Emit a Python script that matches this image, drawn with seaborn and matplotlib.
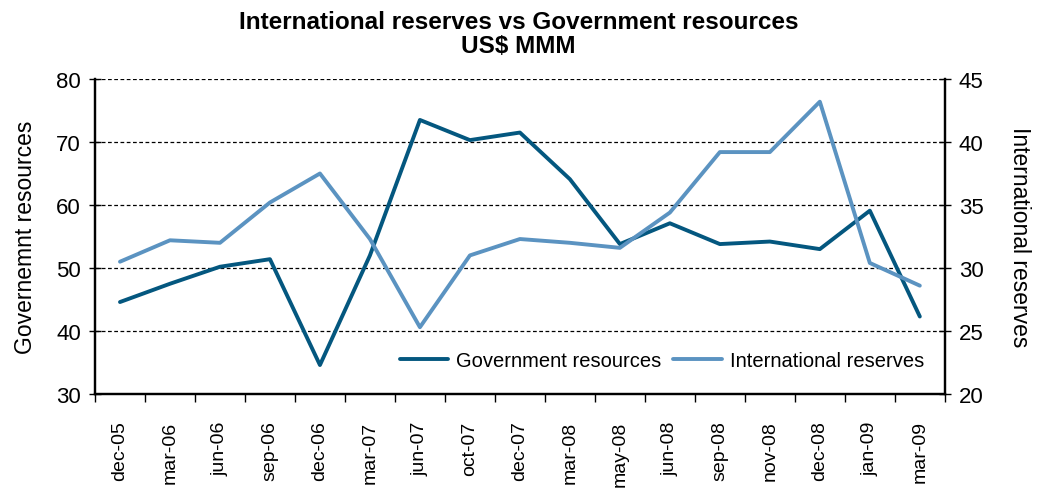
import matplotlib
matplotlib.use("Agg")
import matplotlib.pyplot as plt
import seaborn as sns
import numpy as np
import pandas as pd

categories = ["dec-05", "mar-06", "jun-06", "sep-06", "dec-06", "mar-07", "jun-07", "oct-07",
              "dec-07", "mar-08", "may-08", "jun-08", "sep-08", "nov-08", "dec-08", "jan-09", "mar-09"]
gov_resources = [44.6, 47.5, 50.2, 51.4, 34.6, 52.0, 73.5, 70.3, 71.5, 64.1, 53.8, 57.1, 53.8, 54.2, 53.0, 59.1, 42.3]
intl_reserves = [30.5, 32.2, 32.0, 35.2, 37.5, 32.3, 25.3, 31.0, 32.3, 32.0, 31.6, 34.4, 39.2, 39.2, 43.2, 30.4, 28.6]

sns.set_theme(style="white")
plt.rcParams['font.family'] = ['Liberation Sans', 'DejaVu Sans']
plt.rcParams['text.color'] = 'black'
plt.rcParams['axes.labelcolor'] = 'black'
plt.rcParams['xtick.color'] = 'black'
plt.rcParams['ytick.color'] = 'black'

dark = "#04577f"
light = "#5b93c1"

df = pd.DataFrame({"x": np.arange(len(categories)), "gov": gov_resources, "intl": intl_reserves})

fig = plt.figure(figsize=(10.37, 4.89), dpi=100)
ax = fig.add_axes([0.0916, 0.1922, 0.8195, 0.6442])
ax2 = ax.twinx()

sns.lineplot(data=df, x="x", y="gov", ax=ax, color=dark, lw=2.8, label="Government resources", legend=False)
sns.lineplot(data=df, x="x", y="intl", ax=ax2, color=light, lw=2.8, label="International reserves", legend=False)

ax.set_xlim(-0.5, len(categories) - 0.5)
ax.set_ylim(30, 80)
ax2.set_ylim(20, 45)
ax.set_yticks([30, 40, 50, 60, 70, 80])
ax2.set_yticks([20, 25, 30, 35, 40, 45])

for y in [40, 50, 60, 70, 80]:
    ax.axhline(y, color="black", ls=(0, (3, 2)), lw=0.9, zorder=0)

ax.set_xticks(np.arange(len(categories) + 1) - 0.5)
ax.set_xticklabels([])
ax.set_xticks(np.arange(len(categories)), minor=True)
ax.set_xticklabels(categories, minor=True, rotation=90, fontsize=14)
ax.tick_params(axis="x", which="major", direction="out", length=6, width=1, color="black", bottom=True)
ax.tick_params(axis="x", which="minor", length=0, pad=19)
ax.tick_params(axis="y", direction="inout", length=8, width=1, color="black", left=True, labelsize=16, pad=6)
ax2.tick_params(axis="y", direction="inout", length=8, width=1, color="black", right=True, labelsize=16, pad=6)

for a in (ax, ax2):
    a.set_xlabel("")
    for s in ["left", "right", "bottom"]:
        a.spines[s].set_color("black")
        a.spines[s].set_linewidth(1.6)
    a.spines["top"].set_visible(False)

ax.set_ylabel("Governemnt resources", fontsize=16.5, labelpad=14)
ax2.set_ylabel("International reserves", fontsize=16.5, rotation=270, labelpad=34)

fig.suptitle("International reserves vs Government resources\nUS$ MMM", fontsize=17.5,
             fontweight="bold", y=0.978, x=0.5, linespacing=1.05)

h1, l1 = ax.get_legend_handles_labels()
h2, l2 = ax2.get_legend_handles_labels()
ax2.legend(h1 + h2, l1 + l2, loc="lower right", ncol=2, frameon=False, fontsize=14.5,
           bbox_to_anchor=(0.997, 0.02), handlelength=2.4, columnspacing=0.6, handletextpad=0.4)

fig.savefig("out.png", dpi=100)
